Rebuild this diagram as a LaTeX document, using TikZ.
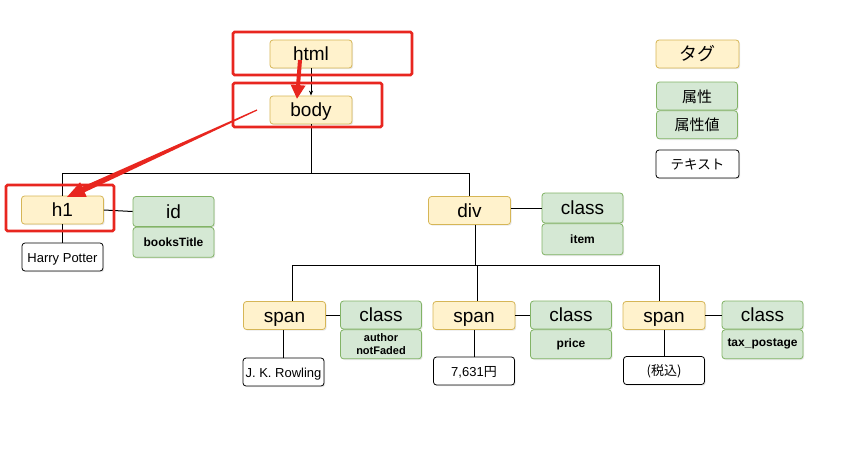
\documentclass[tikz,border=0pt]{standalone}
\usepackage{fontspec}
\setmainfont{Liberation Sans}
\newfontfamily\jpfont{Noto Sans CJK JP}
\usetikzlibrary{arrows.meta,shadows}
\definecolor{tagfill}{HTML}{FFF2CC}
\definecolor{tagline}{HTML}{D6B656}
\definecolor{attrfill}{HTML}{D5E8D4}
\definecolor{attrline}{HTML}{82B366}
\definecolor{markred}{HTML}{E8261F}

\begin{document}
\begin{tikzpicture}[x=1pt,y=-1pt,
  box/.style={rounded corners=3pt,line width=0.8pt,inner sep=0pt,
    drop shadow={shadow xshift=1.2pt,shadow yshift=-1.2pt,opacity=0.18}},
  tag/.style={box,draw=tagline,fill=tagfill,minimum width=82,minimum height=28,
    text height=16pt,text depth=3pt,font=\fontsize{19}{22}\selectfont},
  attr/.style={box,draw=attrline,fill=attrfill,minimum width=81,minimum height=30,
    text height=16pt,text depth=3pt,font=\fontsize{19}{22}\selectfont},
  val/.style={box,draw=attrline,fill=attrfill,minimum width=81,minimum height=30,
    anchor=north,align=center,font=\bfseries\fontsize{12}{14}\selectfont},
  txt/.style={box,draw=black,fill=white,minimum width=81,minimum height=28,
    text height=11pt,text depth=1pt,font=\fontsize{13}{15}\selectfont},
  wire/.style={line width=1pt},
  redbox/.style={draw=markred,line width=2.6pt,rounded corners=1.5pt}]
\useasboundingbox (0,0) rectangle (866,458);
% tags
\node[tag] (html) at (311,54) {html};
\node[tag] (body) at (311,110) {body};
\node[tag] (h1) at (62.5,210) {h1};
\node[tag] (div) at (469.5,210.5) {div};
\node[tag] (spanA) at (284.5,315.5) {span};
\node[tag] (spanB) at (474,315.5) {span};
\node[tag] (spanC) at (664,315.5) {span};
% attributes
\node[attr] (h1id) at (173.5,211.5) {id};
\node[val] (h1idval) at (h1id.south) {booksTitle};
\node[attr] (divcls) at (582.5,208) {class};
\node[val,minimum height=31] (divclsval) at (divcls.south) {item};
\node[attr,minimum height=28] (clsA) at (381,315) {class};
\node[val,minimum height=29,font=\bfseries\fontsize{11}{13}\selectfont] (clsAval) at (clsA.south) {author\\notFaded};
\node[attr,minimum height=28] (clsB) at (571,315) {class};
\node[val,minimum height=29] (clsBval) at (clsB.south) {price};
\node[attr,minimum height=28] (clsC) at (762.5,315) {class};
\node[val,minimum height=29] (clsCval) at (clsC.south) {tax\_postage};
% texts
\node[txt] (hp) at (62.5,257) {Harry Potter};
\node[txt] (txtA) at (283.5,372) {J. K. Rowling};
\node[txt] (txtB) at (474,371) {7,631{\jpfont 円}};
\node[txt] (txtC) at (664,370.5) {{\jpfont (税込)}};
% legend
\node[tag,minimum width=83,font=\jpfont\fontsize{18}{20}\selectfont] (legtag) at (697.5,54) {タグ};
\node[attr,minimum height=28,font=\jpfont\fontsize{15}{18}\selectfont] (legattr) at (697,96) {属性};
\node[val,minimum height=28,font=\jpfont\fontsize{15}{18}\selectfont] (legval) at (legattr.south) {属性値};
\node[txt,minimum width=83,font=\jpfont\fontsize{13.5}{16}\selectfont] (legtxt) at (697.5,164) {テキスト};
% tree
\draw[wire,-{Stealth[length=5pt,width=4pt]}] (html) -- (body);
\coordinate (bodybus) at (311,173);
\draw[wire] (body.south) -- (bodybus) -| (h1.north);
\draw[wire] (bodybus) -| (div.north);
\draw[wire] (h1.east) -- (h1id.west);
\draw[wire] (h1.south) -- (hp.north);
\draw[wire] (div.east |- divcls.west) -- (divcls.west);
\coordinate (divbus) at (475,265);
\draw[wire] ([xshift=5.5pt]div.south) -- (divbus);
\draw[wire] (divbus) -| ([xshift=7.5pt]spanA.north);
\draw[wire] (divbus) -| ([xshift=3pt]spanB.north);
\draw[wire] (divbus) -| ([xshift=-5pt]spanC.north);
\draw[wire] (spanA.east) -- (spanA.east -| clsA.west);
\draw[wire] (spanB.east) -- (spanB.east -| clsB.west);
\draw[wire] (spanC.east) -- (spanC.east -| clsC.west);
\draw[wire] (spanA.south -| txtA.north) -- (txtA.north);
\draw[wire] (spanB.south) -- (txtB.north);
\draw[wire] (spanC.south) -- (txtC.north);
% red marks
\draw[redbox] (233,32) rectangle (412,75);
\draw[redbox] (233,83) rectangle (382,127);
\draw[redbox] (6,185) rectangle (114,231);
\coordinate (redA) at (300,60);
\coordinate (redAend) at (297,99);
\draw[markred,line width=4pt,-{Triangle[length=14pt,width=14pt]}] (redA) -- (redAend);
\fill[markred] (256.75,109.45) -- (82.2,186.8) -- (80.1,182.2) -- (67,197)
  -- (86.7,196.8) -- (84.6,192.2) -- (257.25,110.55) -- cycle;
\end{tikzpicture}
\end{document}
